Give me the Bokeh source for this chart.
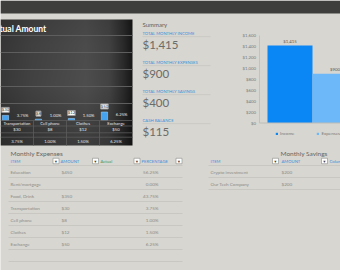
import numpy as np
from bokeh.plotting import figure
from bokeh.models import (Range1d, LabelSet, ColumnDataSource, Legend, LegendItem, Grid)
from bokeh.core.properties import value
from bokeh.embed import file_html
from bokeh.resources import INLINE

FONT = "Lato"
BG = "#d7d6d0"
TOPBAR = "#3e3e3c"
BLUE_TXT = "#3d8fdc"
GRAY_TXT = "#8c8b87"
RULE = "#c4c3bd"

# ---- data -------------------------------------------------------------
exp_items = ["Education", "Rent/mortgage", "Food, Drink", "Transportation",
             "Cell phone", "Clothes", "Exchange"]
exp_amount = [450, 0, 350, 30, 8, 12, 50]
exp_pct = [56.25, 0.00, 43.75, 3.75, 1.00, 1.50, 6.25]
# the dark chart panel is scrolled to the last four expense categories
chart_first = 3

summary_labels = ["TOTAL MONTHLY INCOME", "TOTAL MONTHLY EXPENSES",
                  "TOTAL MONTHLY SAVINGS", "CASH BALANCE"]
summary_series = ["Income", "Expenses", "Savings", "Cash balance"]
summary_values = [1415, 900, 400, 115]
summary_colors = ["#0b86f5", "#6cb8f9", "#a8d2f6", "#2c6eb2"]

sav_items = ["Crypto investment", "Our Tech Company"]
sav_amount = [200, 200]

money_ticks = [0, 200, 400, 600, 800, 1000, 1200, 1400, 1600]
actual_grid = [100, 200, 300, 400, 500]


def money(v):
    return f"${v:,}" if v else ""


W, H = 340, 270

# One canvas in page pixels; the two charts get their own value scales
# through extra ranges laid over the same frame.
ACT_PX = 85 / 500            # px per $ in the dark chart, $0 at y=120
ACT_BASE = 120
CAT_PX, CAT_X0 = 33.0, chart_first - 0.5
MON_PX = 87.5 / 1600         # px per $ in the summary chart, $0 at y=122.5
MON_BASE = 122.5
BAR_PX, BAR_X0 = 45.0, 289.5  # Income bar centre

p = figure(width=W, height=H, x_range=Range1d(0, W), y_range=Range1d(H, 0),
           x_axis_location=None, y_axis_location=None, min_border=0,
           output_backend="svg", toolbar_location=None,
           background_fill_color=BG, border_fill_color=BG)
p.outline_line_color = None
# no axes are shown, so drop the grids the figure creates for them
p.center = [r for r in p.center if not isinstance(r, Grid)]
p.extra_x_ranges = {
    "cat": Range1d(CAT_X0, CAT_X0 + W / CAT_PX),
    "sx": Range1d(-BAR_X0 / BAR_PX, (W - BAR_X0) / BAR_PX),
}
p.extra_y_ranges = {
    "act": Range1d((ACT_BASE - H) / ACT_PX, ACT_BASE / ACT_PX),
    "money": Range1d((MON_BASE - H) / MON_PX, MON_BASE / MON_PX),
}

# ---- top bar ----------------------------------------------------------
p.quad(left=0, right=W, top=0, bottom=13, fill_color=TOPBAR, line_color=None)

# ---- "Actual Amount" dark chart ---------------------------------------
PANEL_L, PANEL_R, PANEL_T, PANEL_B = 0, 132, 19, 145
nx, ny = 132, 126
hprof = np.interp(np.arange(nx), [0, 30, 85, 108, 122, 131], [56, 66, 78, 68, 44, 24])
vprof = np.interp(np.arange(ny), [0, 25, 60, 100, 125], [0.8, 0.86, 1.0, 0.97, 0.9])
g = np.clip(hprof[None, :] * vprof[:, None], 0, 255).astype(np.uint8)
img = np.empty((ny, nx), dtype=np.uint32)
view = img.view(dtype=np.uint8).reshape((ny, nx, 4))
view[..., 0] = g
view[..., 1] = g
view[..., 2] = g
view[..., 3] = 255
p.image_rgba(image=[img], x=PANEL_L, y=(ACT_BASE - PANEL_B) / ACT_PX,
             dw=PANEL_R - PANEL_L, dh=(PANEL_B - PANEL_T) / ACT_PX, y_range_name="act")

# value gridlines
p.segment(x0=PANEL_L, x1=PANEL_R, y0=actual_grid, y1=actual_grid,
          line_color="#5e5e5e", line_width=1, y_range_name="act")

idx = list(range(chart_first, len(exp_items)))
amt = exp_amount[chart_first:]
pct = exp_pct[chart_first:]
src = ColumnDataSource(dict(
    xb=[i - 0.35 for i in idx], xp=[i + 0.17 for i in idx], xc=idx,
    amount=amt, pct=pct,
    amt_text=[money(a) for a in amt],
    pct_text=[f"{v:.2f}%" for v in pct],
    item=exp_items[chart_first:]))

p.vbar(x="xb", top="amount", bottom=0, width=0.19, source=src,
       fill_color="#45a3f0", line_color="#9ccff8", line_width=0.6,
       x_range_name="cat", y_range_name="act")
p.add_layout(LabelSet(x="xb", y="amount", text="amt_text", source=src, y_offset=3,
                      x_range_name="cat", y_range_name="act",
                      text_align="center", text_baseline="bottom",
                      text_font=value(FONT), text_font_size="4.3px", text_color="#333333",
                      background_fill_color="white", border_line_color="#9a9a9a"))
p.add_layout(LabelSet(x="xp", y="pct", text="pct_text", source=src, y_offset=2,
                      x_range_name="cat", y_range_name="act",
                      text_align="center", text_baseline="bottom",
                      text_font=value(FONT), text_font_size="4.2px", text_color="#e6e6e6"))

# data table under the bars
rows_y = [120, 125.5, 132.3, 136.7]
p.segment(x0=PANEL_L, x1=PANEL_R, y0=rows_y, y1=rows_y, line_color="#5c5c5c",
          line_width=0.8)
sep = [i + 0.5 for i in idx[:-1]]
p.segment(x0=sep, x1=sep, y0=120, y1=PANEL_B, line_color="#5c5c5c", line_width=0.8,
          x_range_name="cat")
for col, yy in (("item", 122.8), ("amt_text", 128.9), ("pct_text", 141)):
    p.text(x="xc", y=yy, text=col, source=src, text_align="center",
           text_baseline="middle", text_font=value(FONT), text_font_size="4.2px",
           text_color="#e6e6e6", x_range_name="cat")
p.text(x=[-11], y=[28], text=["Actual Amount"], text_align="left",
       text_baseline="middle", text_font=value(FONT), text_font_size="8.5px",
       text_font_style="bold", text_color="#ffffff")

# ---- summary block ----------------------------------------------------
p.text(x=[142], y=[24], text=["Summary"], text_baseline="middle",
       text_font=value(FONT), text_font_size="6px", text_color="#5e5e5c")
lab_y = [33 + 29 * k for k in range(4)]
p.text(x=[142] * 4, y=lab_y, text=summary_labels, text_baseline="middle",
       text_font=value(FONT), text_font_size="4.2px", text_color=BLUE_TXT)
p.segment(x0=142, x1=210, y0=[y + 3.2 for y in lab_y], y1=[y + 3.2 for y in lab_y],
          line_color="#c6c5bf", line_width=0.8)
p.text(x=[142] * 4, y=[y + 11 for y in lab_y], text=[money(v) for v in summary_values],
       text_baseline="middle", text_font=value(FONT), text_font_size="11.5px",
       text_color="#6b6b69")

# ---- summary bar chart -----------------------------------------------
AX_X = 259
p.segment(x0=AX_X, x1=AX_X, y0=0, y1=money_ticks[-1], line_color="#c3c2bc",
          line_width=1, y_range_name="money")
p.text(x=[AX_X - 3.5] * len(money_ticks), y=money_ticks,
       text=[f"${t:,}" for t in money_ticks], text_align="right", text_baseline="middle",
       text_font=value(FONT), text_font_size="4.3px", text_color="#7a7a78",
       y_range_name="money")

rsrc = ColumnDataSource(dict(x=list(range(4)), top=summary_values, color=summary_colors,
                             txt=[money(v) for v in summary_values]))
bars = p.vbar(x="x", top="top", bottom=0, width=1.0, source=rsrc, fill_color="color",
              line_color=None, x_range_name="sx", y_range_name="money")
p.segment(x0=AX_X, x1=W, y0=0, y1=0, line_color="#bdbcb6", line_width=1,
          y_range_name="money")
lsrc = ColumnDataSource(dict(x=[0, 1], top=summary_values[:2],
                             txt=[money(v) for v in summary_values[:2]]))
p.add_layout(LabelSet(x="x", y="top", text="txt", source=lsrc, y_offset=2,
                      x_range_name="sx", y_range_name="money",
                      text_align="center", text_baseline="bottom",
                      text_font=value(FONT), text_font_size="4.3px",
                      text_color="#5a5a58"))
leg = Legend(items=[LegendItem(label=summary_series[i], renderers=[bars], index=i)
                    for i in range(2)],
             orientation="horizontal", location=(275, 134), padding=0, margin=0,
             spacing=22, glyph_width=3, glyph_height=3, label_standoff=2,
             label_width=10, label_height=5, label_text_font=FONT,
             label_text_font_size="4.5px", label_text_color="#7a7a78",
             background_fill_alpha=0, border_line_color=None)
p.add_layout(leg)

# ---- bottom tables ----------------------------------------------------
p.text(x=[10, 280], y=[153, 153], text=["Monthly Expenses", "Monthly Savings"],
       text_baseline="middle", text_font=value(FONT), text_font_size="6.5px",
       text_color="#666664")

hy = 160.5
p.text(x=[10, 60, 141, 210, 281], y=[hy] * 5,
       text=["ITEM", "AMOUNT", "PERCENTAGE", "ITEM", "AMOUNT"],
       text_baseline="middle", text_font=value(FONT), text_font_size="4.2px",
       text_color=BLUE_TXT)
p.text(x=[100], y=[hy], text=["Actual"], text_baseline="middle",
       text_font=value(FONT), text_font_size="4.2px", text_color="#3c9a5c")
p.text(x=[329], y=[hy], text=["Column1"], text_baseline="middle",
       text_font=value(FONT), text_font_size="4.2px", text_color=BLUE_TXT)
box_x = [55.5, 95, 136.5, 178.5, 275, 324]
p.rect(x=box_x, y=[hy] * 6, width=6, height=5.5, fill_color="white",
       line_color="#8a8a88", line_width=0.6)
p.text(x=box_x, y=[hy + 0.3] * 6, text=["\u25be"] * 6, text_align="center",
       text_baseline="middle", text_font=value("DejaVu Sans"), text_font_size="4.5px",
       text_color="#444444")

ry = [171 + 12 * i for i in range(len(exp_items))]
p.text(x=[10] * len(ry), y=ry, text=exp_items, text_baseline="middle",
       text_font=value(FONT), text_font_size="4.6px", text_color=GRAY_TXT)
p.text(x=[61] * len(ry), y=ry, text=[money(a) for a in exp_amount],
       text_baseline="middle", text_font=value(FONT), text_font_size="4.6px",
       text_color=GRAY_TXT)
p.text(x=[158] * len(ry), y=ry, text=[f"{v:.2f}%" for v in exp_pct],
       text_align="right", text_baseline="middle", text_font=value(FONT),
       text_font_size="4.6px", text_color=GRAY_TXT)
rules_y = [165 + 12 * k for k in range(len(exp_items) + 2)]
p.segment(x0=8, x1=182, y0=rules_y, y1=rules_y, line_color=RULE, line_width=0.8)

sy = [171 + 12 * i for i in range(len(sav_items))]
p.text(x=[210] * len(sy), y=sy, text=sav_items, text_baseline="middle",
       text_font=value(FONT), text_font_size="4.6px", text_color=GRAY_TXT)
p.text(x=[281] * len(sy), y=sy, text=[money(a) for a in sav_amount],
       text_baseline="middle", text_font=value(FONT), text_font_size="4.6px",
       text_color=GRAY_TXT)
sr = [165 + 12 * k for k in range(len(sav_items) + 1)]
p.segment(x0=208, x1=W, y0=sr, y1=sr, line_color=RULE, line_width=0.8)

open("out.html", "w").write(file_html(p, INLINE))
